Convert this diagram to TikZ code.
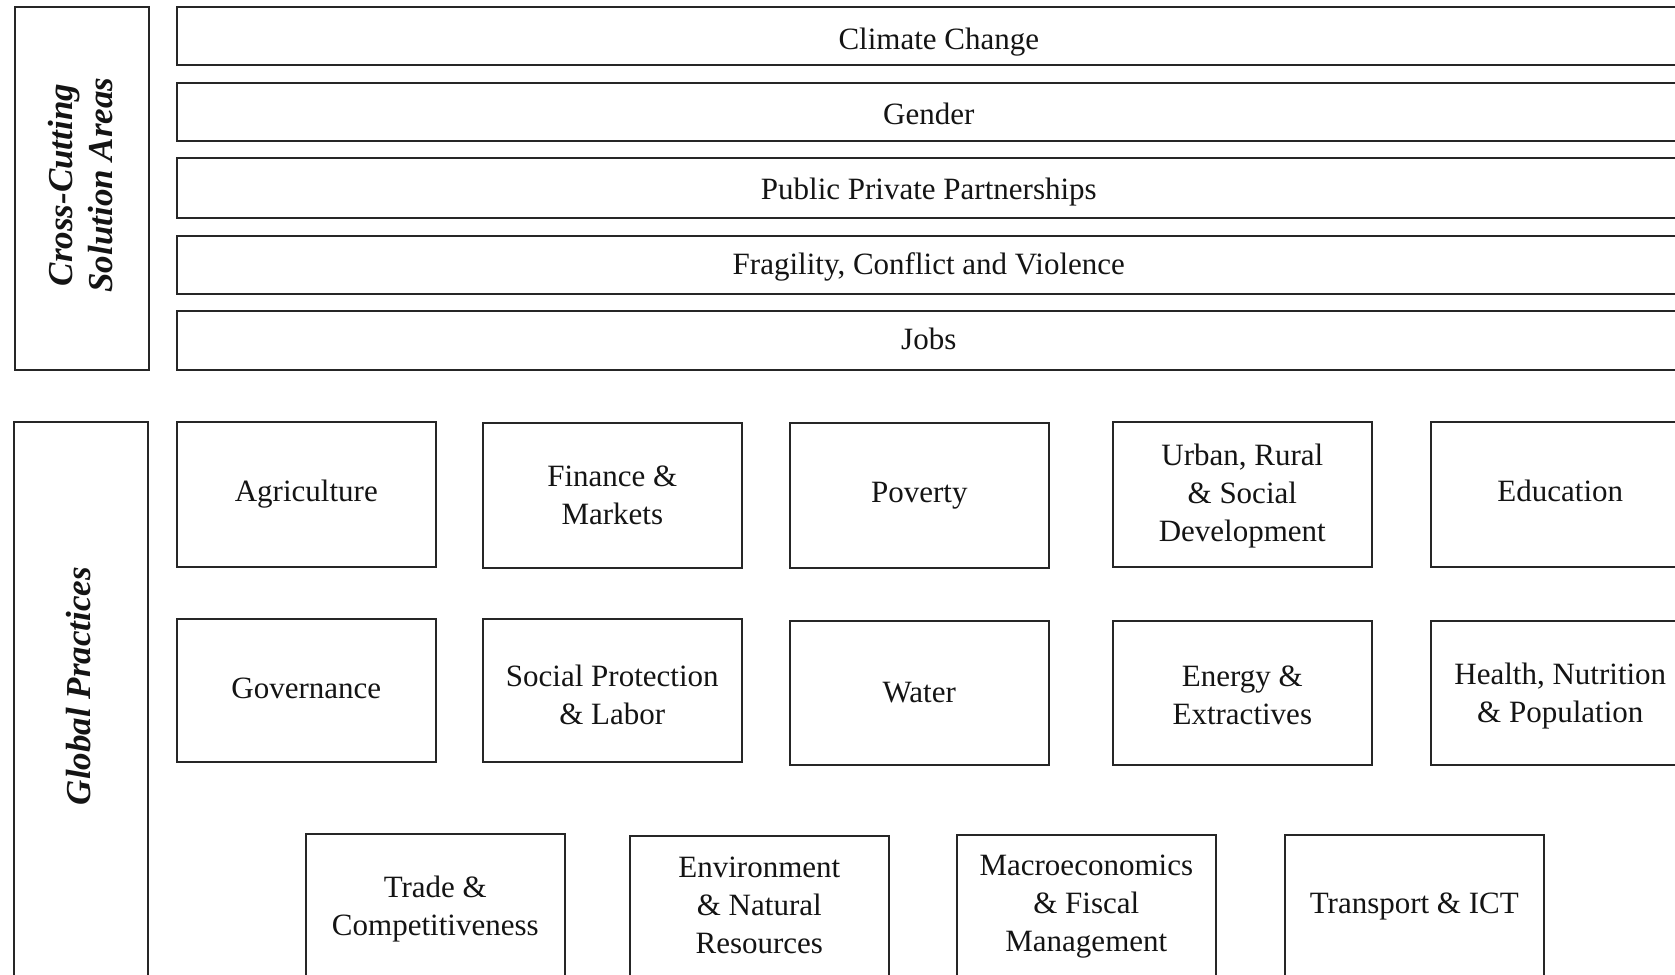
\documentclass[tikz,border=0pt]{standalone}
\usepackage{fontspec}
\setmainfont{Liberation Serif}
% invisible struts that move a label's text down (padabove) or up (padbelow)
\newcommand\padabove[1]{\rule{0pt}{#1}}
\newcommand\padbelow[1]{\rule[-#1]{0pt}{#1}}
\begin{document}
\begin{tikzpicture}[x=1pt,y=-1pt,
  frame/.style={draw=black!85, line width=1.6pt, fill=white, inner sep=0pt,
    anchor=north west, align=center, text=black!92,
    font=\fontsize{31}{38}\selectfont},
  bar/.style={frame, minimum width=1504pt, minimum height=58pt, text depth=0pt},
  practice/.style={frame, minimum width=259pt, minimum height=145pt},
  sidelabel/.style={rotate=90, align=center, text=black!92,
    font=\fontsize{35}{40}\selectfont\bfseries\itshape}]
\useasboundingbox (0,0) rectangle (1675,974);
\clip (0,0) rectangle (1675,974);

% Cross-cutting solution areas
\node[frame, minimum width=134pt, minimum height=363pt] (ccbox) at (14,6) {};
\node[sidelabel] (cclabel) at (81,185) {Cross-Cutting\\Solution Areas};

\node[bar, minimum width=1524pt, text height=27pt] (climate) at (176,6) {Climate Change};
\node[bar, text height=25.5pt] (gender) at (176,82) {Gender};
\node[bar, minimum height=60pt, text height=23.5pt] (ppp) at (176,157) {Public Private Partnerships};
\node[bar, text height=18.5pt] (fcv) at (176,235) {Fragility, Conflict and Violence};
\node[bar, minimum height=59pt, text height=19pt] (jobs) at (176,310) {Jobs};

% Global practices
\node[frame, minimum width=134pt, minimum height=600pt] (gpbox) at (13,421) {};
\node[sidelabel] (gplabel) at (79,686) {Global Practices};

\node[practice] (agri) at (176,421) {Agriculture};
\node[practice] (fin) at (482,422) {Finance \&\\Markets};
\node[practice] (pov) at (789,422) {Poverty};
\node[practice] (urban) at (1112,421) {\padabove{24.4pt}Urban, Rural\\\& Social\\Development};
\node[practice] (edu) at (1430,421) {Education\padbelow{6.4pt}};

\node[practice, minimum height=143pt] (gov) at (176,618) {Governance\padbelow{4.2pt}};
\node[practice, minimum height=143pt] (social) at (482,618) {\padabove{29.8pt}Social Protection\\\& Labor};
\node[practice, minimum height=144pt] (water) at (789,620) {Water};
\node[practice, minimum height=144pt] (energy) at (1112,620) {\padabove{26.5pt}Energy \&\\Extractives};
\node[practice, minimum height=144pt] (health) at (1430,620) {\padabove{27.6pt}Health, Nutrition\\\& Population};

\node[practice, minimum height=150pt] (trade) at (305,833) {Trade \&\\Competitiveness};
\node[practice, minimum height=150pt] (env) at (629,835) {Environment\\\& Natural\\Resources\padbelow{11.4pt}};
\node[practice, minimum height=150pt] (macro) at (956,834) {Macroeconomics\\\& Fiscal\\Management\padbelow{13.1pt}};
\node[practice, minimum height=150pt] (transport) at (1284,834) {Transport \& ICT\padbelow{13.1pt}};
\end{tikzpicture}
\end{document}
